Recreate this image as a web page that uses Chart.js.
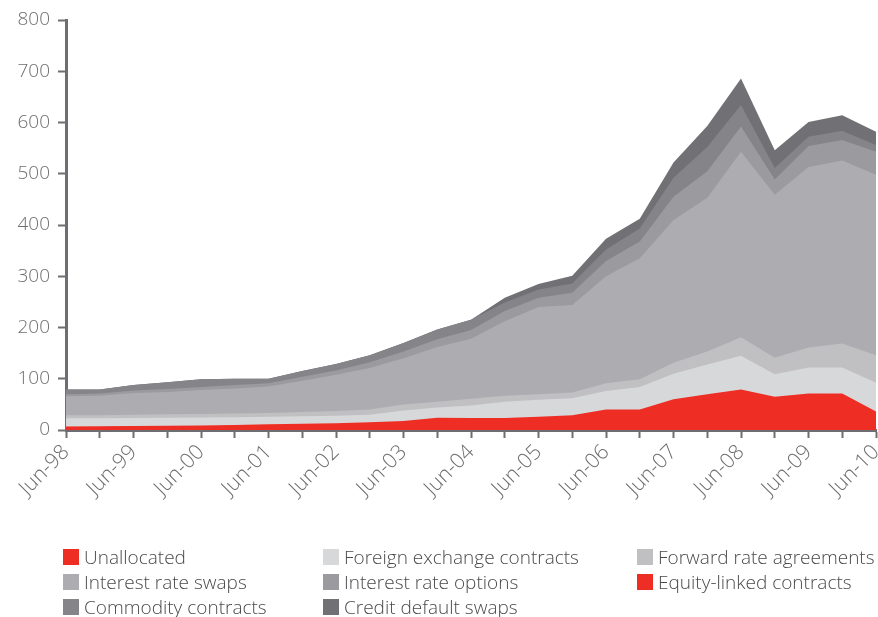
<!DOCTYPE html>
<html>
<head>
<meta charset="utf-8">
<script src="https://cdn.jsdelivr.net/npm/chart.js@4.4.0/dist/chart.umd.min.js"></script>
<style>
  body { margin: 0; background: #fff; font-family: "Open Sans", sans-serif; }
  #wrap { position: relative; width: 878px; height: 617px; }
  #legend {
    position: absolute; left: 63px; top: 546px;
    display: grid; grid-template-columns: 260px 314px 240px; row-gap: 4px;
    font-size: 19px; font-weight: 300; color: #4a4a4c;
  }
  .item { display: flex; align-items: center; height: 21px; white-space: nowrap; }
  .sw { width: 16px; height: 16px; margin-right: 5px; flex: none; }
</style>
</head>
<body>
<div id="wrap">
  <canvas id="chart" width="878" height="617"></canvas>
  <div id="legend"></div>
</div>
<script>
// half-yearly periods, Jun-98 .. Jun-10
const periods = ["Jun-98","Dec-98","Jun-99","Dec-99","Jun-00","Dec-00","Jun-01","Dec-01",
  "Jun-02","Dec-02","Jun-03","Dec-03","Jun-04","Dec-04","Jun-05","Dec-05","Jun-06","Dec-06",
  "Jun-07","Dec-07","Jun-08","Dec-08","Jun-09","Dec-09","Jun-10"];

const unallocated = [5.7,6.0,6.5,6.7,7.4,8.1,9.1,10.1,10.8,12.7,14.7,20.2,19.0,19.1,21.4,23.2,33.2,32.5,51.4,61.5,68.8,58.5,64.4,65.1,29.7];
const equityLinked = [1.3,1.5,1.5,1.8,1.6,1.9,1.9,1.9,2.2,2.3,2.8,3.8,4.5,4.4,4.6,5.8,6.8,7.5,8.6,8.5,10.2,6.5,6.6,5.9,6.3];
const fxContracts = [16,15.5,15.5,15.5,15.5,15,15,15,15,15,20.5,20,24.5,31.5,33,33,36,44,50,58,66,44,51,51,56];
const forwardRate = [6,6,6.5,6.5,6.5,7,7,8,9,10,12,11,13,12,11,11,15,15,21,25,36,32,39,47,54];
const rateSwaps = [37,38,42,43.5,47,49,52,61,71,81,90,107,117,145,170,171,209,236,279,300,362,318,352,357,352];
const rateOptions = [4,4,5,6,6,7,6,8,8,11,13,15,17,20,18,24,30,33,45,52,49,30,41,40,45];
const commodity = [9,8,11,13,15,12,9,11,13,14,17,19,20,17,16,18,22,25,37,47,42,22,18,18,13];
const creditDefault = [0,0,0,0,0,0,0,0,0,0,0,0,0,9,11,15,21,19,30,41,52,35,29,30,26];

const yTicks = [0, 100, 200, 300, 400, 500, 600, 700, 800];

const axisGrey = "#6d6e71";

// stacking order, bottom to top
const series = [
  { label: "Unallocated", data: unallocated, color: "#ee2e24" },
  { label: "Equity-linked contracts", data: equityLinked, color: "#ee2e24" },
  { label: "Foreign exchange contracts", data: fxContracts, color: "#d7d8da" },
  { label: "Forward rate agreements", data: forwardRate, color: "#c0c0c3" },
  { label: "Interest rate swaps", data: rateSwaps, color: "#adacb0" },
  { label: "Interest rate options", data: rateOptions, color: "#9b9a9e" },
  { label: "Commodity contracts", data: commodity, color: "#858488" },
  { label: "Credit default swaps", data: creditDefault, color: "#717074" }
];

// order shown in the legend
const legendOrder = ["Unallocated", "Foreign exchange contracts", "Forward rate agreements",
  "Interest rate swaps", "Interest rate options", "Equity-linked contracts",
  "Commodity contracts", "Credit default swaps"];

const yFont = { family: "'Open Sans', sans-serif", size: 19, weight: 300 };
const xFont = { family: "'Open Sans', sans-serif", size: 21, weight: 300 };

// every layer is filled down to zero; upper layers are drawn first,
// so lower ones cover them without seams
new Chart(document.getElementById("chart"), {
  type: "line",
  data: {
    labels: periods,
    datasets: series.map(s => ({
      label: s.label,
      data: s.data,
      backgroundColor: s.color,
      borderWidth: 0,
      pointRadius: 0,
      tension: 0,
      fill: "origin"
    }))
  },
  options: {
    responsive: false,
    animation: false,
    layout: { padding: { top: 20, right: 2, bottom: 87, left: 0 } },
    plugins: { legend: { display: false }, tooltip: { enabled: false } },
    scales: {
      x: {
        offset: false,
        grid: { drawOnChartArea: false, tickLength: 8, tickWidth: 2, tickColor: axisGrey },
        border: { color: axisGrey, width: 3 },
        ticks: {
          autoSkip: false, minRotation: 45, maxRotation: 45, padding: 2,
          color: axisGrey, font: xFont,
          callback: (v, i) => i % 2 === 0 ? periods[i] : ""
        },
        afterFit: (scale) => { scale.height = 100; scale.paddingRight = 0; scale.paddingLeft = 0; }
      },
      y: {
        stacked: true,
        min: yTicks[0], max: yTicks[yTicks.length - 1],
        grid: { drawOnChartArea: false, tickLength: 8, tickWidth: 2, tickColor: axisGrey },
        border: { color: axisGrey, width: 3 },
        ticks: { stepSize: 100, padding: 8, color: axisGrey, font: yFont },
        afterFit: (scale) => { scale.width = 66; }
      }
    }
  }
});

const legend = document.getElementById("legend");
legendOrder.forEach(name => {
  const s = series.find(d => d.label === name);
  const item = document.createElement("div");
  item.className = "item";
  item.innerHTML = '<span class="sw" style="background:' + s.color + '"></span>' + s.label;
  legend.appendChild(item);
});
</script>
</body>
</html>
